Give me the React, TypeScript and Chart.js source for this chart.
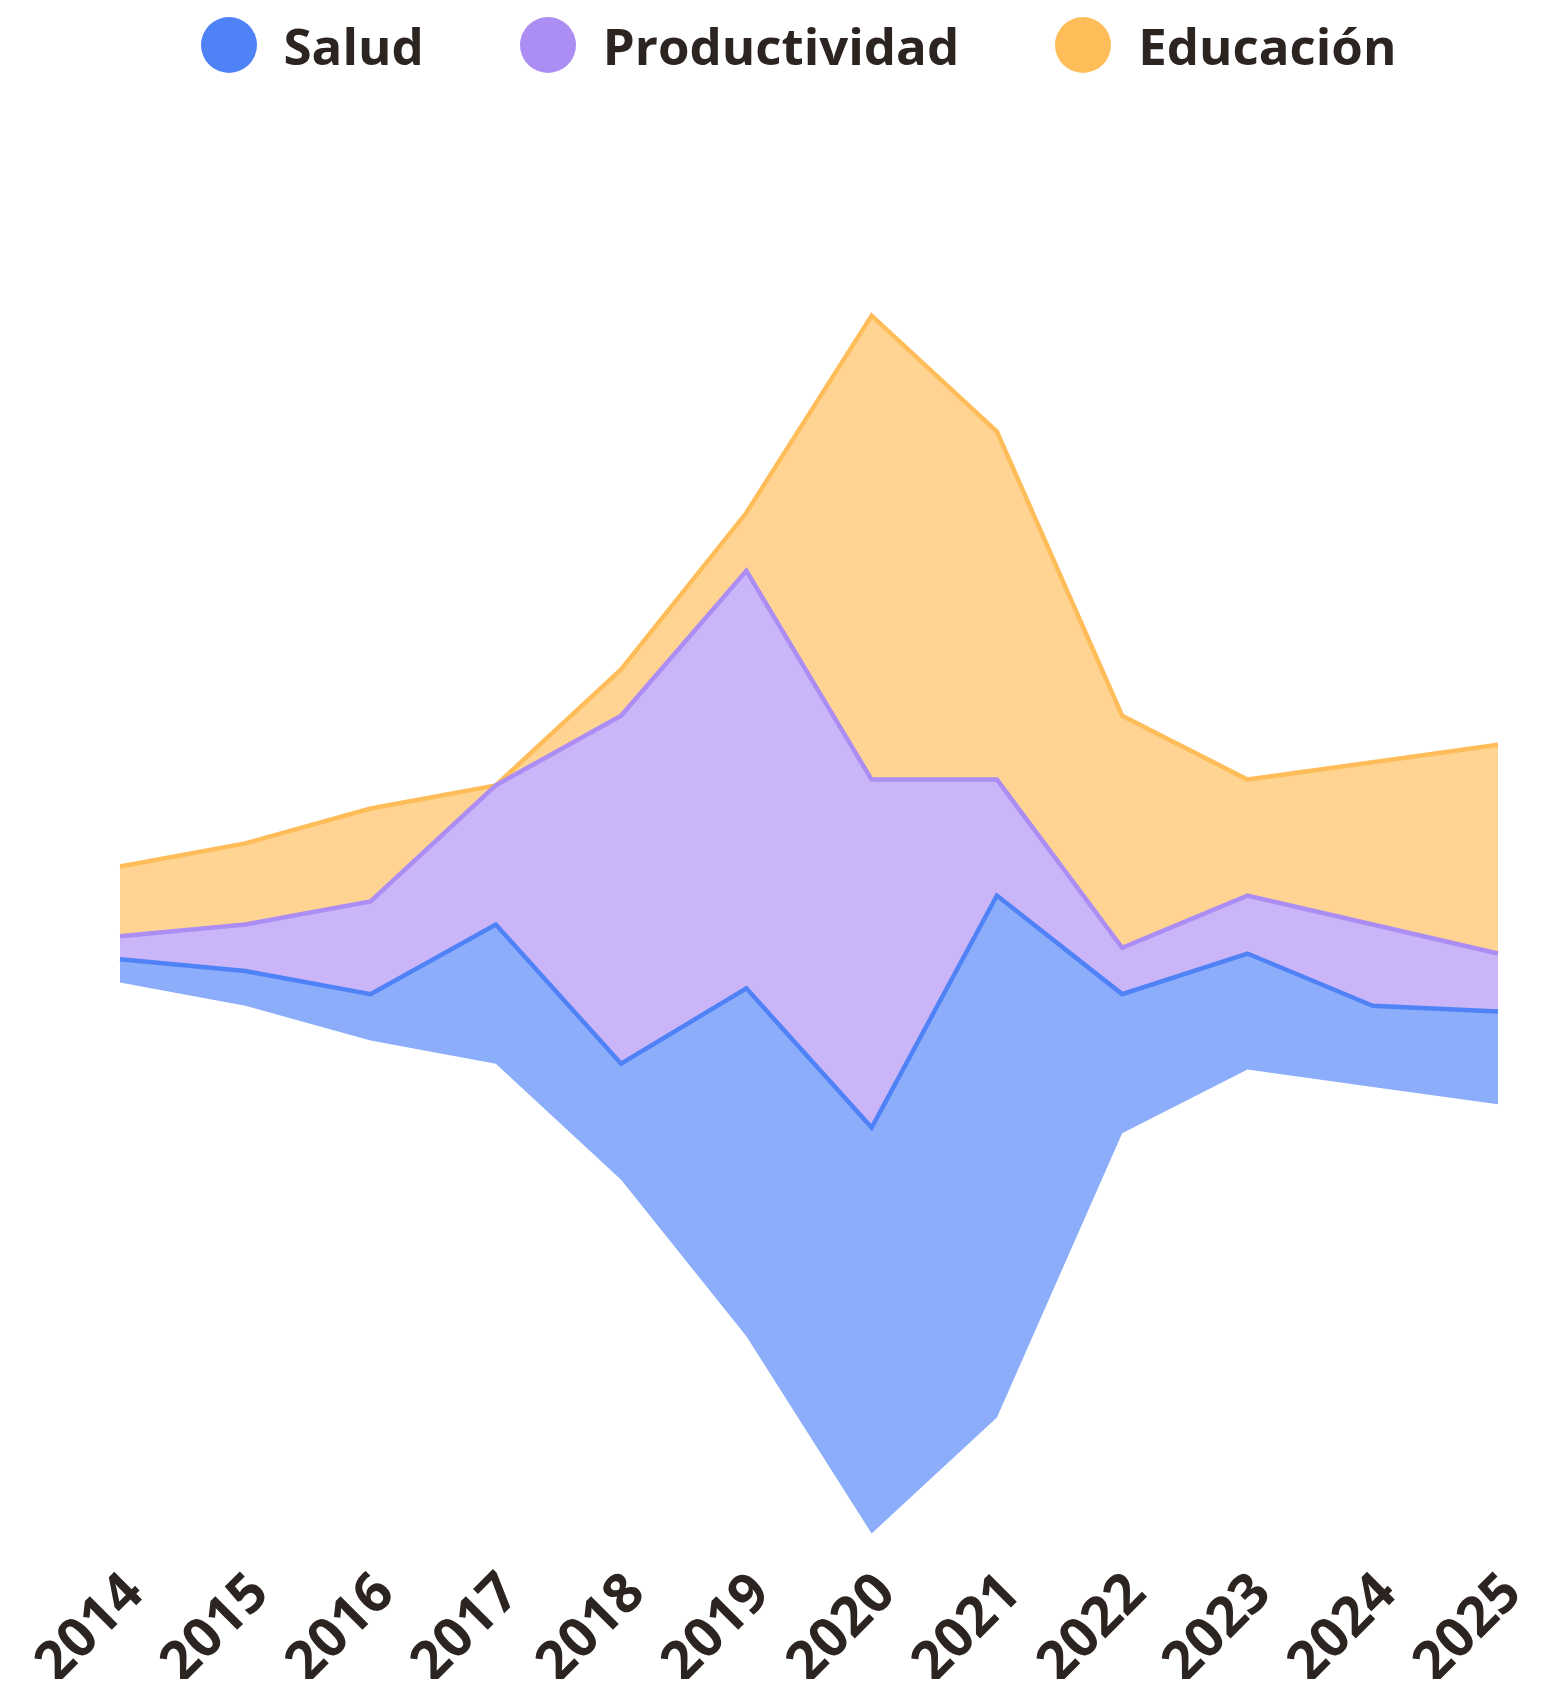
import React, { useEffect, useRef } from "react";
import { Chart, registerables } from "chart.js";

Chart.register(...registerables);

const years = ["2014", "2015", "2016", "2017", "2018", "2019", "2020", "2021", "2022", "2023", "2024", "2025"];
const salud = [2, 3, 4, 12, 10, 30, 35, 45, 12, 10, 7, 8];
const productividad = [2, 4, 8, 12, 30, 36, 30, 10, 4, 5, 7, 5];
const educacion = [6, 7, 8, 0, 4, 5, 40, 30, 20, 10, 14, 18];

const seriesNames = ["Salud", "Productividad", "Educación"];
const lineColors = ["#4f82f7", "#ac8df3", "#ffbd59"];
const fillColors = ["rgba(79,130,247,0.66)", "rgba(172,141,243,0.65)", "rgba(255,189,89,0.65)"];

const textColor = "#2b2420";
const fontFamily = "'Open Sans', 'DejaVu Sans', sans-serif";

export default function App() {
  const canvasRef = useRef<HTMLCanvasElement | null>(null);

  useEffect(() => {
    if (!canvasRef.current) return;
    const series = [salud, productividad, educacion];
    const base = years.map((_, i) => -(salud[i] + productividad[i] + educacion[i]) / 2);
    const cum: number[][] = [];
    let running = base.slice();
    series.forEach((s) => {
      running = running.map((v, i) => v + s[i]);
      cum.push(running.slice());
    });

    const datasets: any[] = [
      {
        label: "base",
        data: base,
        borderWidth: 0,
        borderColor: "rgba(0,0,0,0)",
        backgroundColor: "rgba(0,0,0,0)",
        fill: false,
        pointRadius: 0,
      },
      ...seriesNames.map((name, k) => ({
        label: name,
        data: cum[k],
        borderColor: lineColors[k],
        backgroundColor: fillColors[k],
        borderWidth: 4.5,
        fill: "-1",
        pointRadius: 0,
        tension: 0,
      })),
    ];

    const chart = new Chart(canvasRef.current, {
      type: "line",
      data: { labels: years, datasets },
      options: {
        animation: false,
        responsive: true,
        maintainAspectRatio: false,
        layout: { padding: { top: 100, left: 112, right: 54, bottom: 0 } },
        plugins: {
          legend: { display: false },
          tooltip: { enabled: false },
        },
        elements: { point: { radius: 0 } },
        scales: {
          x: {
            grid: { display: false },
            border: { display: false },
            ticks: {
              minRotation: 45,
              maxRotation: 45,
              autoSkip: false,
              padding: -6,
              labelOffset: 15,
              color: textColor,
              font: { family: fontFamily, size: 55, weight: "bold" },
            },
            afterFit: (scale: any) => {
              scale.height = 120;
            },
          },
          y: {
            display: false,
            min: -54.7,
            max: 70.4,
          },
        },
      },
    });
    return () => chart.destroy();
  }, []);

  return (
    <div style={{ position: "relative", width: 1544, height: 1671 }}>
      <div
        style={{
          position: "absolute",
          top: 0,
          left: 0,
          right: 0,
          height: 74,
          display: "flex",
          alignItems: "center",
          justifyContent: "center",
          paddingLeft: 37,
          boxSizing: "border-box",
          fontFamily,
          fontWeight: 700,
          fontSize: 51,
          color: textColor,
          zIndex: 1,
        }}
      >
        {seriesNames.map((name, k) => (
          <div key={name} style={{ display: "flex", alignItems: "center", marginRight: k < seriesNames.length - 1 ? 96 : 0 }}>
            <span
              style={{
                display: "inline-block",
                width: 56,
                height: 56,
                borderRadius: "50%",
                background: lineColors[k],
                marginRight: 27,
              }}
            />
            <span style={{ lineHeight: 1 }}>{name}</span>
          </div>
        ))}
      </div>
      <canvas ref={canvasRef} />
    </div>
  );
}
